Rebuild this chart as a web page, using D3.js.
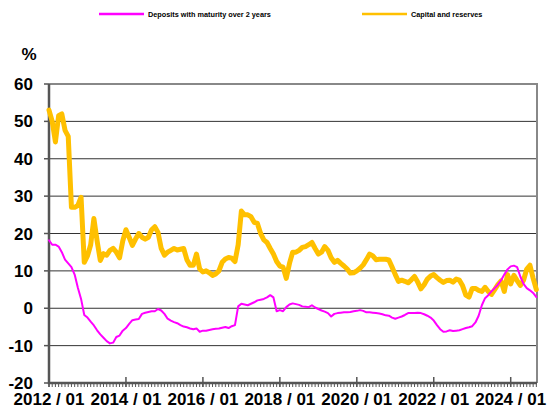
<!DOCTYPE html>
<html>
<head>
<meta charset="utf-8">
<script src="https://cdn.jsdelivr.net/npm/d3@7"></script>
<style>
    body { margin: 0; background: #fff; }
    text { font-family: "Liberation Sans", Arial, sans-serif; font-weight: bold; fill: #000; }
    .grid { stroke: #333; stroke-width: 1; }
    .axis { stroke: #555; stroke-width: 2.5; fill: none; }
    .frame { stroke: #888; stroke-width: 2; fill: none; }
    .line { fill: none; stroke-linejoin: round; stroke-linecap: round; }
</style>
</head>
<body>
<svg id="chart"></svg>
<script>
// monthly values, 2012/01 .. 2024/09
var deposits = [
    18.2, 17, 17, 16.5, 15, 13, 12, 11, 9, 5.5, 2.5, -1.8,
    -2.5, -3.6, -4.6, -5.9, -7, -7.9, -8.8, -9.4, -9.2, -7.7, -7.3, -6,
    -5.3, -4.2, -3.2, -3, -2.9, -1.5, -1.2, -1, -0.8, -0.8, -0.2, -0.6,
    -1.5, -2.8, -3.3, -3.7, -4, -4.5, -4.9, -5.1, -5.4, -5.6, -5.4, -6.3,
    -6, -6, -5.8, -5.6, -5.5, -5.4, -5.2, -5, -5.3, -4.8, -4.5, 0.5,
    1.2, 1, 0.8, 1.2, 1.6, 2.1, 2.3, 2.5, 2.9, 3.5, 2.9, -0.8,
    -0.5, -0.8, 0.3, 1, 1.3, 1.1, 0.9, 0.5, 0.4, 0.3, 0.8, 0.2,
    -0.2, -0.6, -0.9, -1.3, -2.2, -1.5, -1.3, -1.2, -1.1, -1.1, -1, -0.8,
    -0.7, -0.5, -0.7, -1.1, -1.1, -1.2, -1.3, -1.4, -1.6, -1.9, -2, -2.5,
    -2.8, -2.5, -2.2, -1.8, -1.3, -1.3, -1.3, -1.2, -1.3, -1.6, -2, -2.5,
    -3.3, -4.5, -5.6, -6.3, -6.2, -5.9, -6.1, -6, -5.9, -5.6, -5.3, -5.1,
    -4.8, -3.8, -2, 0.8, 2.7, 3.5, 4.5, 5.4, 6.3, 7.5, 9, 10.4,
    11.2, 11.4, 11, 8.5, 6.5, 5.4, 4.8, 4.1, 3
]

var capital = [
    53, 50, 44.5, 51.5, 52, 47.6, 46, 27, 27, 27.5, 29.7, 12.3,
    14, 17, 24, 18, 12.8, 14.6, 14.2, 15.5, 16, 15, 13.5, 18,
    21, 19, 16.8, 18.5, 20, 19, 18.5, 19, 21, 21.8, 20.3, 16,
    14.2, 15, 15.5, 16, 15.6, 15.8, 16, 13, 11.5, 11.5, 14.5, 10.5,
    9.7, 10, 9.5, 8.8, 9.2, 10, 12.3, 13.2, 13.6, 13.4, 12.5, 17,
    26, 25, 25, 24.5, 23, 22.7, 20, 18.3, 17.6, 16, 14.5, 12.5,
    11.3, 11, 8, 12, 15, 15, 15.5, 16.3, 16.5, 17, 17.6, 16,
    14.5, 15, 16.5, 15.5, 13.5, 12.3, 12.8, 12, 11.3, 10.5, 9.4, 9.5,
    10, 10.7, 11.6, 13, 14.5, 14, 13, 13.1, 13.1, 13.1, 12.9, 11,
    9, 7.2, 7.5, 7.2, 6.8, 7.6, 8.5, 7, 5.2, 6.3, 7.8, 8.6,
    9, 8.2, 7.5, 6.9, 7.4, 7.5, 7, 7.8, 7.5, 6, 3.5, 3,
    5.3, 5.3, 4.8, 4.5, 5.6, 4.5, 3.7, 5, 6.3, 7.3, 4.5, 9,
    6.5, 8.8, 7.4, 6.1, 7.5, 10.5, 11.5, 8, 5
]

var yTicks = [-20, -10, 0, 10, 20, 30, 40, 50, 60]
var xTickLabels = ['2012 / 01', '2014 / 01', '2016 / 01', '2018 / 01',
                   '2020 / 01', '2022 / 01', '2024 / 01']
var seriesNames = ['Deposits with maturity over 2 years', 'Capital and reserves']
var seriesColors = ['#ff00ff', '#ffc000']

var width = 547, height = 409
var plot = { left: 49, right: 537, top: 84, bottom: 383 }

var svg = d3.select('#chart')
            .attr('width', width)
            .attr('height', height)

var x = d3.scaleLinear()
          .domain([0, 152.2])
          .range([plot.left, plot.right])

var y = d3.scaleLinear()
          .domain([-20, 60])
          .range([plot.bottom, plot.top])

// horizontal grid lines
svg.selectAll('.grid')
   .data(yTicks.filter(function (d) { return d > -20 && d < 60 }))
   .enter().append('line')
   .attr('class', 'grid')
   .attr('x1', plot.left).attr('x2', plot.right)
   .attr('y1', function (d) { return y(d) })
   .attr('y2', function (d) { return y(d) })

// top and right frame
svg.append('path')
   .attr('class', 'frame')
   .attr('d', 'M' + plot.left + ',' + plot.top + 'H' + plot.right + 'V' + plot.bottom)

// y axis ticks + labels
svg.selectAll('.ytick')
   .data(yTicks)
   .enter().append('line')
   .attr('stroke', '#555').attr('stroke-width', 1.5)
   .attr('x1', plot.left - 5).attr('x2', plot.left)
   .attr('y1', function (d) { return y(d) })
   .attr('y2', function (d) { return y(d) })

svg.selectAll('.ylabel')
   .data(yTicks)
   .enter().append('text')
   .attr('x', 33)
   .attr('y', function (d) { return y(d) })
   .attr('dy', '.36em')
   .style('text-anchor', 'end')
   .style('font-size', '17px')
   .text(function (d) { return d })

svg.append('text')
   .attr('x', 29).attr('y', 60)
   .style('text-anchor', 'middle')
   .style('font-size', '17px')
   .text('%')

// x axis minor (monthly) and major ticks
var months = d3.range(0, 153)
svg.selectAll('.xminor')
   .data(months)
   .enter().append('line')
   .attr('stroke', '#555').attr('stroke-width', 1)
   .attr('x1', function (d) { return x(d) })
   .attr('x2', function (d) { return x(d) })
   .attr('y1', plot.bottom).attr('y2', plot.bottom + 4)

svg.selectAll('.xmajor')
   .data(xTickLabels)
   .enter().append('line')
   .attr('stroke', '#555').attr('stroke-width', 1.5)
   .attr('x1', function (d, i) { return x(i * 24) })
   .attr('x2', function (d, i) { return x(i * 24) })
   .attr('y1', plot.bottom - 6).attr('y2', plot.bottom + 4)

svg.selectAll('.xlabel')
   .data(xTickLabels)
   .enter().append('text')
   .attr('x', function (d, i) { return x(i * 24) })
   .attr('y', 405)
   .style('text-anchor', 'middle')
   .style('font-size', '17px')
   .text(function (d) { return d })

// axis lines
svg.append('path')
   .attr('class', 'axis')
   .attr('d', 'M' + plot.left + ',' + plot.top + 'V' + plot.bottom + 'H' + plot.right)

// series lines
var line = d3.line()
             .x(function (d, i) { return x(i) })
             .y(function (d) { return y(d) })

svg.append('path')
   .datum(capital)
   .attr('class', 'line')
   .attr('stroke', seriesColors[1])
   .attr('stroke-width', 5)
   .attr('d', line)

svg.append('path')
   .datum(deposits)
   .attr('class', 'line')
   .attr('stroke', seriesColors[0])
   .attr('stroke-width', 2)
   .attr('d', line)

// legend
var legendPos = [99, 362]
var legend = svg.selectAll('.legend')
                .data(seriesNames)
                .enter().append('g')
                .attr('transform', function (d, i) {
                    return 'translate(' + legendPos[i] + ',14)'
                })

legend.append('line')
      .attr('x1', 0).attr('x2', 45)
      .attr('stroke', function (d, i) { return seriesColors[i] })
      .attr('stroke-width', 2.5)

legend.append('text')
      .attr('x', 49)
      .attr('dy', '.35em')
      .style('font-size', '7.3px')
      .text(function (d) { return d })
</script>
</body>
</html>
